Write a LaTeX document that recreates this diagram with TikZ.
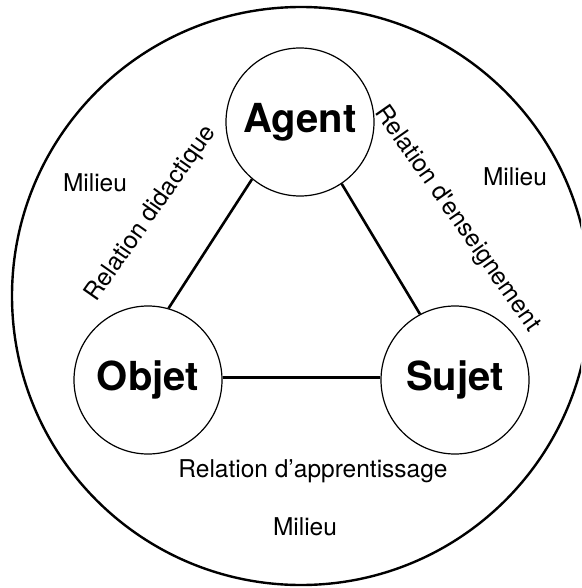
\documentclass[tikz,border=0pt]{standalone}
\usepackage{fontspec}
\setmainfont{TeX Gyre Heros}

\begin{document}
\begin{tikzpicture}[x=1pt,y=-1pt]
\tikzset{sommet/.style={circle,draw,line width=1.2pt,minimum size=148pt,inner sep=0pt,font=\fontsize{40}{48}\selectfont\bfseries}}
\tikzset{relation/.style={inner sep=0pt,font=\fontsize{24.5}{29}\selectfont}}
\tikzset{lien/.style={line width=2.6pt}}

\useasboundingbox (0,0) rectangle (581,588);
\clip (0,0) rectangle (581,588);

\node[circle,draw,line width=2.4pt,minimum size=578pt,inner sep=0pt] (milieu) at (301,296) {};

\node[sommet] (agent) at (300,122) {Agent};
\node[sommet] (objet) at (148,380) {Objet};
\node[sommet] (sujet) at (455,380) {Sujet};

\draw[lien] (agent.230) -- (objet.74);
\draw[lien] (agent.304) -- (sujet.118);
\draw[lien] (objet.2) -- (sujet.178);

\node[relation,rotate=55] (didactique) at (151,214) {Relation didactique};
\node[relation,rotate=-55] (enseignement) at (457,219) {Relation d\textquotesingle enseignement};
\node[relation,anchor=base] (apprentissage) at (313,477) {Relation d’apprentissage};

\node[relation,anchor=base] (milieuG) at (95,191) {Milieu};
\node[relation,anchor=base] (milieuD) at (515,185) {Milieu};
\node[relation,anchor=base] (milieuB) at (305,535) {Milieu};

\end{tikzpicture}
\end{document}
